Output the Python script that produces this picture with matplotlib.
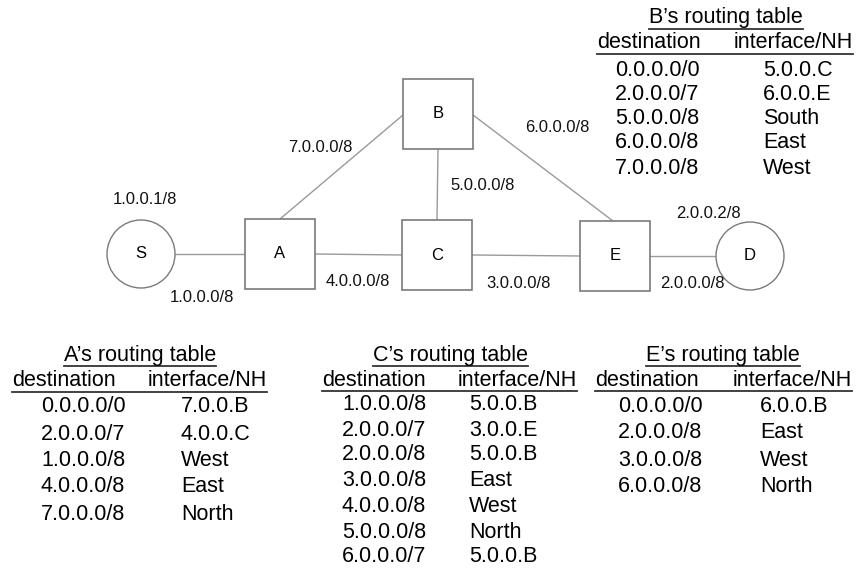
import matplotlib
matplotlib.use("Agg")
import matplotlib.pyplot as plt
from matplotlib.patches import Circle, Rectangle

plt.rcParams['font.family'] = ['Liberation Sans', 'DejaVu Sans']

# ---- network data ----
hosts = ["S", "D"]
host_xy = {"S": (141, 254), "D": (750, 256)}
routers = ["A", "B", "C", "E"]
router_xy = {"A": (280, 254), "B": (438, 114), "C": (437, 255), "E": (615, 256)}
links = [("S", "A"), ("A", "C"), ("C", "E"), ("E", "D"), ("A", "B"), ("B", "C"), ("B", "E")]
link_labels = ["1.0.0.1/8", "1.0.0.0/8", "4.0.0.0/8", "3.0.0.0/8", "2.0.0.2/8",
               "2.0.0.0/8", "7.0.0.0/8", "5.0.0.0/8", "6.0.0.0/8"]
link_label_xy = [(145, 200), (202, 297), (358, 282), (519, 283), (708, 213),
                 (692, 283), (320, 148), (483, 186), (557, 127)]

# ---- routing tables ----
A_dest = ["0.0.0.0/0", "2.0.0.0/7", "1.0.0.0/8", "4.0.0.0/8", "7.0.0.0/8"]
A_nh = ["7.0.0.B", "4.0.0.C", "West", "East", "North"]
B_dest = ["0.0.0.0/0", "2.0.0.0/7", "5.0.0.0/8", "6.0.0.0/8", "7.0.0.0/8"]
B_nh = ["5.0.0.C", "6.0.0.E", "South", "East", "West"]
C_dest = ["1.0.0.0/8", "2.0.0.0/7", "2.0.0.0/8", "3.0.0.0/8", "4.0.0.0/8", "5.0.0.0/8", "6.0.0.0/7"]
C_nh = ["5.0.0.B", "3.0.0.E", "5.0.0.B", "East", "West", "North", "5.0.0.B"]
E_dest = ["0.0.0.0/0", "2.0.0.0/8", "3.0.0.0/8", "6.0.0.0/8"]
E_nh = ["6.0.0.B", "East", "West", "North"]

W, H = 857, 571
fig = plt.figure(figsize=(W / 100, H / 100), dpi=100)
ax = fig.add_axes([0, 0, 1, 1])
ax.set_xlim(0, W)
ax.set_ylim(H, 0)
ax.axis('off')

HALF = 35
R = 34
edge_c = '#9a9a9a'
box_c = '#7a7a7a'

def anchor(name, other):
    """Point on node boundary facing the other node."""
    x, y = host_xy.get(name, router_xy.get(name))
    ox, oy = host_xy.get(other, router_xy.get(other))
    dx, dy = ox - x, oy - y
    if name in host_xy:
        d = (dx ** 2 + dy ** 2) ** 0.5
        return x + R * dx / d, y + R * dy / d
    # square: pick side
    if abs(dx) >= abs(dy):
        return x + HALF * (1 if dx > 0 else -1), y
    return x, y + HALF * (1 if dy > 0 else -1)

# custom endpoints for diagonal links (mid of top/side as in picture)
special = {("A", "B"): ((280, 219), (403, 115)),
           ("B", "E"): ((473, 115), (613, 221))}

for a, b in links:
    if (a, b) in special:
        (x0, y0), (x1, y1) = special[(a, b)]
    else:
        x0, y0 = anchor(a, b)
        x1, y1 = anchor(b, a)
    ax.plot([x0, x1], [y0, y1], color=edge_c, lw=1.0, zorder=1)

for h in hosts:
    x, y = host_xy[h]
    ax.add_patch(Circle((x, y), R, facecolor='white', edgecolor=box_c, lw=1.0, zorder=2))
    ax.text(x, y, h, ha='center', va='center', fontsize=12, zorder=3)
for r in routers:
    x, y = router_xy[r]
    ax.add_patch(Rectangle((x - HALF, y - HALF), 2 * HALF, 2 * HALF,
                           facecolor='white', edgecolor=box_c, lw=1.2, zorder=2))
    ax.text(x, y, r, ha='center', va='center', fontsize=12, zorder=3)

for lab, (x, y) in zip(link_labels, link_label_xy):
    ax.text(x, y, lab, ha='center', va='center', fontsize=12, color='#111111')

fig.canvas.draw()
renderer = fig.canvas.get_renderer()
inv = ax.transData.inverted()

TFS = 15.5

def underline(t, dy=2):
    bb = t.get_window_extent(renderer)
    (x0, y0), (x1, y1) = inv.transform([(bb.x0, bb.y0), (bb.x1, bb.y1)])
    ax.plot([x0, x1], [y0 + dy, y0 + dy], color='#333333', lw=1.3)

def table(title, tx, ty, hx_dest, hx_nh, hy, dx, nx, rows_y, dests, nhs):
    t = ax.text(tx, ty, title, ha='center', va='center', fontsize=TFS)
    underline(t, 0)
    t1 = ax.text(hx_dest, hy, "destination", ha='left', va='center', fontsize=TFS)
    t2 = ax.text(hx_nh, hy, "interface/NH", ha='left', va='center', fontsize=TFS)
    b1 = t1.get_window_extent(renderer)
    b2 = t2.get_window_extent(renderer)
    (x0, y0), (x1, _) = inv.transform([(b1.x0, b1.y0), (b2.x1, b2.y0)])
    ax.plot([x0, x1], [y0, y0], color='#333333', lw=1.3)
    for y, d, n in zip(rows_y, dests, nhs):
        ax.text(dx, y, d, ha='left', va='center', fontsize=TFS)
        ax.text(nx, y, n, ha='left', va='center', fontsize=TFS)

fig.canvas.draw()
table("B\u2019s routing table", 726, 18, 597, 734, 43, 615, 763,
      [70, 94, 118, 143, 168], B_dest, B_nh)
table("A\u2019s routing table", 140, 355, 12, 148, 381, 41, 181,
      [407, 434, 461, 487, 514], A_dest, A_nh)
table("C\u2019s routing table", 451, 355, 322, 458, 380, 342, 469,
      [405, 430, 455, 480, 506, 532, 557], C_dest, C_nh)
table("E\u2019s routing table", 723, 355, 595, 733, 380, 618, 760,
      [407, 433, 460, 486], E_dest, E_nh)

fig.savefig("out.png", dpi=100, facecolor='white')
